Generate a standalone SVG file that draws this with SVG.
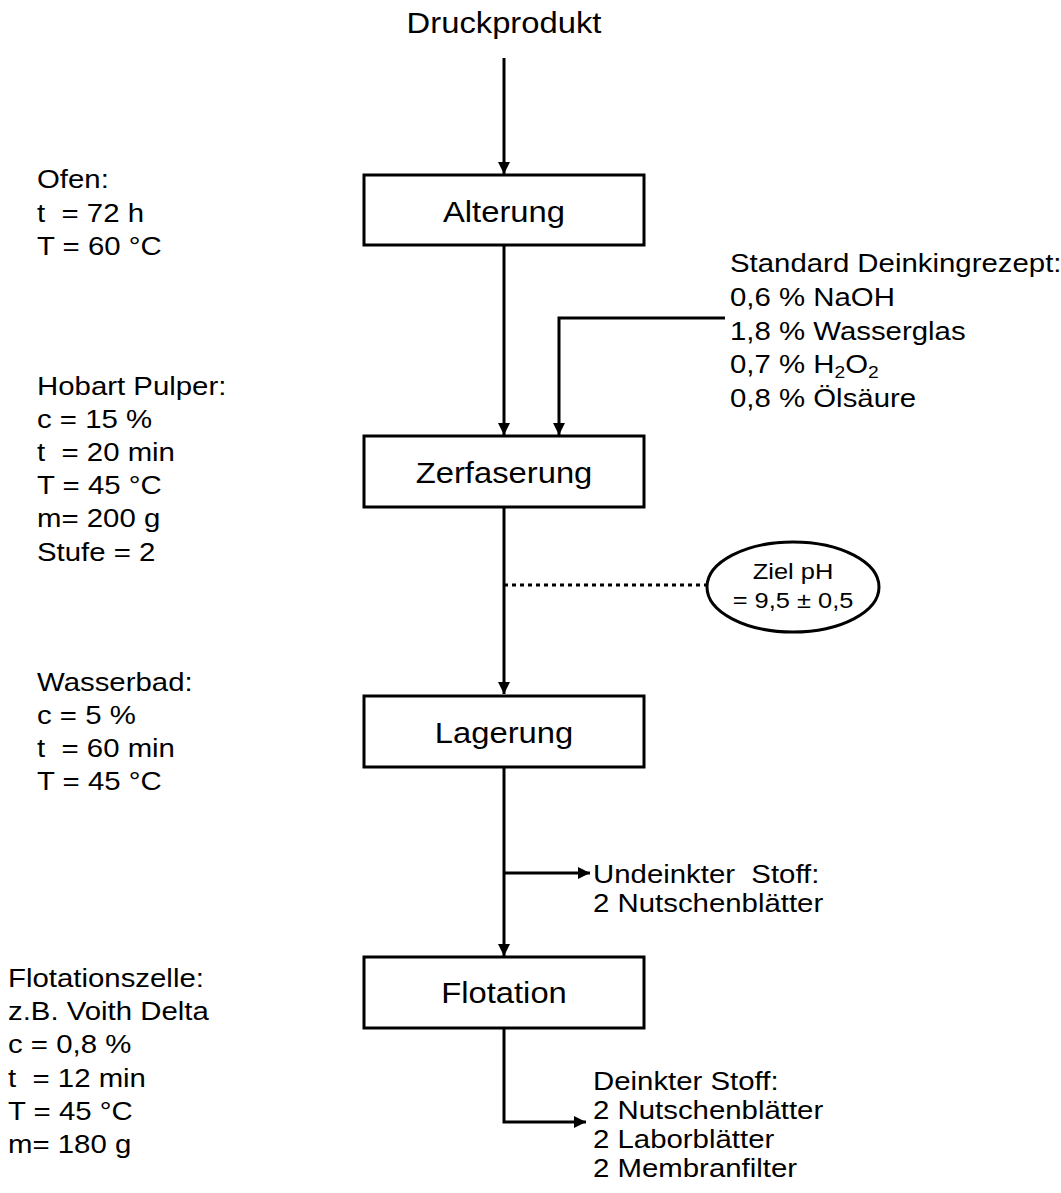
<svg xmlns="http://www.w3.org/2000/svg" width="1061" height="1193" viewBox="0 0 1061 1193">
<style>
text{font-family:"Liberation Sans",Arial,sans-serif;fill:#000;white-space:pre}
.main{font-size:29px;text-anchor:middle}
.side{font-size:26px}
.small{font-size:22.5px;text-anchor:middle}
.box{fill:#fff;stroke:#000;stroke-width:3}
.con{fill:none;stroke:#000;stroke-width:3}
</style>
<defs>
<marker id="ah" markerUnits="userSpaceOnUse" markerWidth="14" markerHeight="14" refX="12" refY="6" orient="auto">
<path d="M0,0 L12,6 L0,12 Z" fill="#000"/>
</marker>
</defs>
<g id="connectors">
<path class="con" d="M504,58 V174" marker-end="url(#ah)"/>
<path class="con" d="M504,245 V435" marker-end="url(#ah)"/>
<path class="con" d="M725,318 H559 V435" marker-end="url(#ah)"/>
<path class="con" d="M504,507 V694" marker-end="url(#ah)"/>
<path class="con" d="M504,585 H706" style="stroke-dasharray:4 4"/>
<path class="con" d="M504,767 V956" marker-end="url(#ah)"/>
<path class="con" d="M504,873 H590" marker-end="url(#ah)"/>
<path class="con" d="M504,1028 V1122 H586" marker-end="url(#ah)"/>
</g>
<g id="druckprodukt"><text class="main" transform="translate(504,33) scale(1.13,1)">Druckprodukt</text></g>
<g id="alterung"><rect class="box" x="364" y="175" width="280" height="70"/><text class="main" transform="translate(504,222) scale(1.13,1)">Alterung</text></g>
<g id="zerfaserung"><rect class="box" x="364" y="436" width="280" height="71"/><text class="main" transform="translate(504,483) scale(1.13,1)">Zerfaserung</text></g>
<g id="lagerung"><rect class="box" x="364" y="696" width="280" height="71"/><text class="main" transform="translate(504,743) scale(1.13,1)">Lagerung</text></g>
<g id="flotation"><rect class="box" x="364" y="957" width="280" height="71"/><text class="main" transform="translate(504,1003) scale(1.13,1)">Flotation</text></g>
<g id="ziel-ph"><ellipse cx="793" cy="587" rx="86" ry="45" fill="#fff" stroke="#000" stroke-width="3"/>
<text class="small" transform="translate(793,0) scale(1.13,1)"><tspan x="0" y="579">Ziel pH</tspan><tspan x="0" y="608">= 9,5 ± 0,5</tspan></text></g>
<g id="ofen"><text class="side" transform="translate(37,0) scale(1.13,1)"><tspan x="0" y="188">Ofen:</tspan><tspan x="0" y="222">t  = 72 h</tspan><tspan x="0" y="255">T = 60 °C</tspan></text></g>
<g id="hobart"><text class="side" transform="translate(37,0) scale(1.13,1)"><tspan x="0" y="395">Hobart Pulper:</tspan><tspan x="0" y="428">c = 15 %</tspan><tspan x="0" y="461">t  = 20 min</tspan><tspan x="0" y="494">T = 45 °C</tspan><tspan x="0" y="527">m= 200 g</tspan><tspan x="0" y="561">Stufe = 2</tspan></text></g>
<g id="wasserbad"><text class="side" transform="translate(37,0) scale(1.13,1)"><tspan x="0" y="691">Wasserbad:</tspan><tspan x="0" y="724">c = 5 %</tspan><tspan x="0" y="757">t  = 60 min</tspan><tspan x="0" y="790">T = 45 °C</tspan></text></g>
<g id="flotationszelle"><text class="side" transform="translate(8,0) scale(1.13,1)"><tspan x="0" y="987">Flotationszelle:</tspan><tspan x="0" y="1020">z.B. Voith Delta</tspan><tspan x="0" y="1053">c = 0,8 %</tspan><tspan x="0" y="1087">t  = 12 min</tspan><tspan x="0" y="1120">T = 45 °C</tspan><tspan x="0" y="1153">m= 180 g</tspan></text></g>
<g id="rezept"><text class="side" transform="translate(730,0) scale(1.13,1)"><tspan x="0" y="272">Standard Deinkingrezept:</tspan><tspan x="0" y="306">0,6 % NaOH</tspan><tspan x="0" y="340">1,8 % Wasserglas</tspan><tspan x="0" y="373">0,7 % H<tspan font-size="17" dy="5">2</tspan><tspan dy="-5">O</tspan><tspan font-size="17" dy="5">2</tspan></tspan><tspan x="0" y="407">0,8 % Ölsäure</tspan></text></g>
<g id="undeinkt"><text class="side" transform="translate(593,0) scale(1.13,1)"><tspan x="0" y="883">Undeinkter  Stoff:</tspan><tspan x="0" y="912">2 Nutschenblätter</tspan></text></g>
<g id="deinkt"><text class="side" transform="translate(593,0) scale(1.13,1)"><tspan x="0" y="1090">Deinkter Stoff:</tspan><tspan x="0" y="1119">2 Nutschenblätter</tspan><tspan x="0" y="1148">2 Laborblätter</tspan><tspan x="0" y="1177">2 Membranfilter</tspan></text></g>
</svg>
